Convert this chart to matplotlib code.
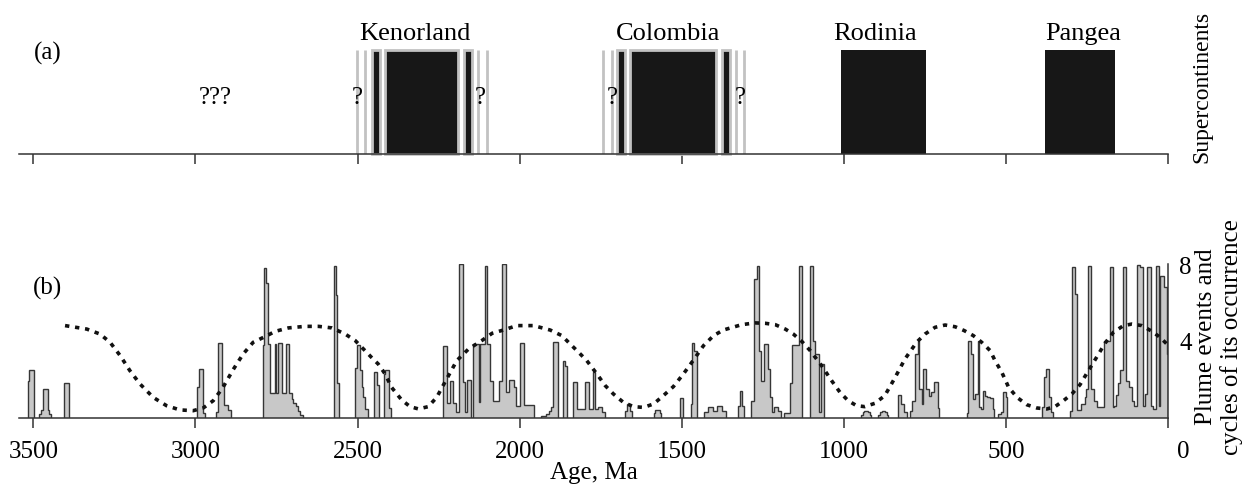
import matplotlib
matplotlib.use('Agg')
import matplotlib.pyplot as plt
import numpy as np

plt.rcParams['font.family'] = ['Liberation Serif', 'DejaVu Serif']
plt.rcParams['font.size'] = 18

# --- (a) supercontinents, ages in Ma ---
super_names = ['Kenorland', 'Colombia', 'Rodinia', 'Pangea']
super_label_age = [2323, 1542, 904, 263]
super_old = [2415, 1659, 1009, 380]
super_young = [2190, 1394, 748, 164]
super_outlined = [True, True, False, False]

pulse_old = [2456, 2171, 1699, 1377]
pulse_young = [2431, 2148, 1675, 1352]

uncertain_ages = [2502, 2477, 2128, 2101, 1742, 1716, 1334, 1308]
question_ages = [2501, 2122, 1715, 1320]
unknown_age = 2939

# --- (b) plume events: step clusters (edges old -> young, counts) ---
plume_clusters = [
    ([3516, 3512, 3498], [1.9, 2.5]),
    ([3481, 3475, 3469, 3455, 3451, 3446], [0.2, 0.4, 1.5, 0.4, 0.2]),
    ([3404, 3389], [1.8]),
    ([2996, 2988, 2977, 2970], [1.6, 2.55, 0.25]),
    ([2936, 2929, 2919, 2912, 2898, 2891], [0.3, 3.9, 1.7, 0.65, 0.4]),
    ([2790, 2787, 2783, 2775, 2770, 2756, 2752, 2744, 2732, 2721, 2711,
      2703, 2698, 2690, 2683, 2676, 2667],
     [3.8, 7.8, 7.0, 3.85, 1.3, 3.85, 1.3, 3.9, 1.3, 3.85, 1.3, 1.0, 0.8,
      0.6, 0.35, 0.15]),
    ([2574, 2566, 2563, 2557], [7.9, 6.4, 1.8]),
    ([2508, 2502, 2492, 2487, 2482, 2477, 2469], [2.6, 3.8, 2.5, 1.6, 1.07, 0.47]),
    ([2448, 2441, 2434], [2.4, 1.7]),
    ([2419, 2415, 2403, 2397], [2.3, 2.5, 0.5]),
    ([2237, 2225, 2215, 2205, 2196, 2186, 2176, 2168, 2161, 2151, 2143, 2126,
      2122, 2107, 2100, 2090, 2083, 2064, 2054, 2042, 2034, 2018, 2010, 1998,
      1988, 1957],
     [3.76, 0.8, 1.9, 0.8, 0.3, 8.0, 1.85, 0.3, 1.95, 0, 3.85, 0.85, 3.85,
      7.9, 3.85, 1.9, 0.9, 1.9, 8.0, 1.35, 1.95, 1.6, 0.6, 3.9, 0.65]),
    ([1933, 1920, 1910, 1902, 1897, 1881], [0.1, 0.2, 0.35, 0.55, 3.93]),
    ([1866, 1861, 1853], [2.94, 2.7]),
    ([1837, 1824, 1799, 1785, 1775, 1768, 1757, 1747, 1737],
     [1.89, 0.47, 1.89, 0.47, 2.4, 0.47, 0.59, 0.3]),
    ([1675, 1670, 1660, 1653], [0.35, 0.75, 0.35]),
    ([1586, 1582, 1567, 1563], [0.25, 0.42, 0.25]),
    ([1506, 1495], [1.02]),
    ([1473, 1468, 1463, 1453], [0.73, 3.88, 3.5]),
    ([1430, 1418, 1404, 1392, 1376, 1364], [0.3, 0.55, 0.38, 0.64, 0.38]),
    ([1326, 1320, 1313, 1307], [0.64, 1.42, 0.64]),
    ([1286, 1276, 1269, 1262, 1256, 1245, 1235, 1228, 1221, 1215, 1202, 1194],
     [0.9, 7.2, 7.9, 3.5, 1.94, 3.84, 2.55, 1.07, 0.3, 0.55, 0.38]),
    ([1184, 1166, 1161, 1140, 1128], [0.25, 1.8, 3.8, 7.9]),
    ([1104, 1095, 1088, 1077, 1071, 1062], [7.9, 3.98, 3.3, 0.3, 2.8]),
    ([947, 942, 937, 926, 921, 916], [0.15, 0.3, 0.38, 0.3, 0.15]),
    ([894, 889, 884, 873, 868, 863], [0.15, 0.3, 0.38, 0.3, 0.15]),
    ([832, 824, 814, 807], [1.2, 0.73, 0.3]),
    ([796, 791, 780, 772, 768, 760, 755, 748, 739, 731, 721, 710, 706],
     [0.38, 0.9, 3.3, 3.98, 1.5, 0.73, 2.55, 1.5, 1.16, 1.33, 1.85, 0.5]),
    ([621, 616, 609, 601, 596, 588, 582, 578, 572, 565, 558, 550, 541, 537],
     [0.25, 3.98, 3.3, 1.0, 1.25, 3.98, 0.55, 0.47, 1.42, 1.16, 1.07, 1.04, 0.47]),
    ([524, 515, 510, 500, 496], [0.2, 0.3, 1.33, 1.07]),
    ([390, 383, 377, 368, 362, 356], [0.55, 2.11, 2.55, 1.07, 0.3]),
    ([302, 296, 287, 280, 268, 258, 253, 248, 239, 230, 220, 199, 181, 171,
      167, 160, 154, 149, 140, 130, 120, 112, 107, 97, 87, 79, 71, 66, 54,
      46, 38, 28, 24, 14, 5, 0],
     [0.38, 7.86, 6.44, 0.4, 0.75, 1.07, 1.5, 7.91, 1.5, 0.9, 0.55, 4.0,
      7.86, 0.55, 0.6, 1.2, 1.8, 2.5, 7.86, 1.94, 1.6, 0.9, 0.64, 7.97,
      7.83, 0.64, 1.25, 7.86, 0.64, 0.47, 7.91, 0.6, 7.4, 6.8, 3.3]),
]

# cycles of plume occurrence (dotted curve)
cycle_age = [3402, 3335, 3294, 3263, 3232, 3202, 3171, 3130, 3089, 3048, 3007,
             2976, 2945, 2915, 2884, 2853, 2822, 2785, 2754, 2713, 2662, 2620,
             2579, 2538, 2507, 2477, 2457, 2436, 2415, 2395, 2364, 2338, 2312,
             2282, 2256, 2225, 2194, 2158, 2117, 2085, 2050, 2009, 1957, 1906,
             1870, 1844, 1818, 1793, 1762, 1736, 1711, 1680, 1649, 1618, 1587,
             1557, 1526, 1495, 1464, 1433, 1402, 1372, 1315, 1274, 1243, 1212,
             1181, 1156, 1130, 1104, 1069, 1038, 1012, 987, 961, 936, 905, 874,
             843, 812, 776, 750, 719, 688, 657, 629, 601, 575, 549, 534, 513,
             492, 466, 436, 405, 374, 349, 323, 297, 272, 246, 221, 195, 169,
             138, 112, 81, 50, 25, 4, 0]
cycle_val = [4.8, 4.62, 4.36, 3.93, 3.24, 2.46, 1.77, 1.07, 0.64, 0.42, 0.38,
             0.52, 0.9, 1.59, 2.5, 3.32, 3.93, 4.23, 4.5, 4.68, 4.76, 4.76,
             4.68, 4.36, 4.02, 3.5, 3.15, 2.8, 2.29, 1.59, 0.94, 0.59, 0.47,
             0.59, 1.07, 2.03, 2.98, 3.58, 4.02, 4.4, 4.57, 4.8, 4.8, 4.57,
             4.28, 3.84, 3.41, 2.98, 2.29, 1.68, 1.25, 0.81, 0.59, 0.55, 0.73,
             1.16, 1.63, 2.29, 3.01, 3.76, 4.28, 4.57, 4.85, 4.94, 4.92, 4.85,
             4.62, 4.36, 3.98, 3.5, 2.72, 1.94, 1.33, 0.9, 0.64, 0.59, 0.76, 1.16,
             2.08, 3.06, 3.93, 4.36, 4.71, 4.83, 4.74, 4.54, 4.28, 3.93, 3.5, 2.98, 2.37,
             1.59, 1.07, 0.69, 0.52, 0.47, 0.59, 0.9, 1.25, 1.73, 2.46, 3.15, 3.88, 4.45,
             4.8, 4.88, 4.8, 4.5, 4.19, 3.84, 3.78]

age_ticks = [3500, 3000, 2500, 2000, 1500, 1000, 500, 0]
count_ticks = [4, 8]

W_PX, H_PX = 1251, 489
AGE_MAX = 3544
left = 19 / W_PX
width = (1168.2 - 19) / W_PX

fig = plt.figure(figsize=(W_PX / 100, H_PX / 100), dpi=100)
ax_a = fig.add_axes([left, 1 - 155 / H_PX, width, 104 / H_PX])
ax_b = fig.add_axes([left, 1 - 419 / H_PX, width, 154 / H_PX])

axis_col = '#333333'
grey = '#c2c2c2'
black = '#171717'

for ax in (ax_a, ax_b):
    ax.set_xlim(AGE_MAX, 0)
    ax.spines['top'].set_visible(False)
    ax.spines['left'].set_visible(False)
    ax.spines['bottom'].set_color(axis_col)
    ax.spines['bottom'].set_linewidth(1.1)
    ax.set_xticks(age_ticks)
    ax.tick_params(axis='x', direction='out', length=7.5, width=1.1, color=axis_col)

# (a) supercontinents
ax_a.spines['right'].set_visible(False)
ax_a.set_ylim(0, 1)
ax_a.set_yticks([])
ax_a.tick_params(axis='x', labelbottom=False)

ax_a.vlines(uncertain_ages, 0, 1, color=grey, lw=2, zorder=1)
for old, young, outlined in zip(super_old, super_young, super_outlined):
    ax_a.bar(young, 1, width=old - young, align='edge', color=black,
             edgecolor=grey if outlined else black, linewidth=2 if outlined else 0,
             clip_on=False, zorder=2)
for old, young in zip(pulse_old, pulse_young):
    ax_a.bar(young, 1, width=old - young, align='edge', color=black,
             edgecolor=grey, linewidth=2, clip_on=False, zorder=2)

for name, a in zip(super_names, super_label_age):
    ax_a.text(a, 1.106, name, ha='center', va='baseline', fontsize=19, clip_on=False)
for a in question_ages:
    ax_a.text(a, 0.55, '?', ha='center', va='center', zorder=3)
ax_a.text(unknown_age, 0.55, '???', ha='center', va='center')
fig.text(48 / W_PX, 1 - 53 / H_PX, '(a)', ha='center', va='center')

# (b) plume events
ax_b.set_ylim(0, 8)
ax_b.spines['right'].set_color(axis_col)
ax_b.spines['right'].set_linewidth(1.1)
ax_b.yaxis.tick_right()
ax_b.set_yticks(count_ticks)
ax_b.tick_params(axis='y', length=0, pad=8)

for edges, counts in plume_clusters:
    ax_b.stairs(counts[::-1], edges[::-1], baseline=0, fill=True,
                facecolor='#c8c8c8', edgecolor='#363636', linewidth=1.0, zorder=2)

ax_b.plot(cycle_age, cycle_val, color='#111111', lw=2.6,
          linestyle=(0, (1.2, 1.6)), dash_capstyle='butt', zorder=3)

ax_b.set_xticklabels([str(t) for t in age_ticks[:-1]] + [''])
ax_b.tick_params(axis='x', pad=8.5)
ax_b.annotate('0', xy=(0, 0), xycoords='data', xytext=(11, -16),
              textcoords='offset points', ha='center', va='top')
ax_b.set_xlabel('Age, Ma', labelpad=-1)
fig.text(48 / W_PX, 1 - 288 / H_PX, '(b)', ha='center', va='center')

fig.text(1202 / W_PX, 1 - 87 / H_PX, 'Supercontinents', rotation=90,
         ha='center', va='center', fontsize=17)
fig.text(1219 / W_PX, 1 - 337 / H_PX, 'Plume events and\ncycles of its occurrence',
         rotation=90, ha='center', va='center', multialignment='center',
         linespacing=1.15)

fig.savefig('out.png', dpi=100)
